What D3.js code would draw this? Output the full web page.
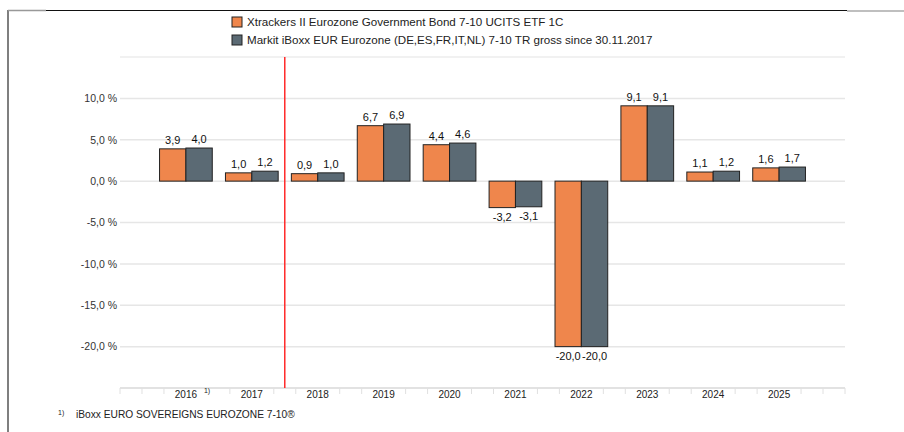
<!DOCTYPE html>
<html>
<head>
<meta charset="utf-8">
<script src="https://cdn.jsdelivr.net/npm/d3@7"></script>
<style>
  body { margin: 0; background: #fff; }
  svg { display: block; font-family: "Liberation Sans", Arial, sans-serif; }
</style>
</head>
<body>
<div id="chart"></div>
<script>
const years = [2016, 2017, 2018, 2019, 2020, 2021, 2022, 2023, 2024, 2025]
const fundValues = [3.9, 1.0, 0.9, 6.7, 4.4, -3.2, -20.0, 9.1, 1.1, 1.6]
const indexValues = [4.0, 1.2, 1.0, 6.9, 4.6, -3.1, -20.0, 9.1, 1.2, 1.7]
const seriesNames = [
    'Xtrackers II Eurozone Government Bond 7-10 UCITS ETF 1C',
    'Markit iBoxx EUR Eurozone (DE,ES,FR,IT,NL) 7-10 TR gross since 30.11.2017'
]
const yTickValues = [10, 5, 0, -5, -10, -15, -20]
const changeYear = 2017.5
const footnote = 'iBoxx EURO SOVEREIGNS EUROZONE 7-10®'

const width = 904
const height = 432
const colors = ['#ef864c', '#5b6a74']
const fmt = v => d3.format('.1f')(v).replace('.', ',').replace('\u2212', '-')

const svg = d3.select('#chart').append('svg')
    .attr('width', width)
    .attr('height', height)

// frame
svg.append('line')
    .attr('x1', 8).attr('x2', 8).attr('y1', 10).attr('y2', height)
    .attr('stroke', '#555').attr('stroke-width', 1.5)
svg.append('line')
    .attr('x1', 8).attr('x2', 46).attr('y1', 10.5).attr('y2', 10.5)
    .attr('stroke', '#999').attr('stroke-width', 1.5)
svg.append('line')
    .attr('x1', 46).attr('x2', 847).attr('y1', 10.5).attr('y2', 10.5)
    .attr('stroke', '#111').attr('stroke-width', 1.2)
svg.append('line')
    .attr('x1', 847).attr('x2', width).attr('y1', 11).attr('y2', 11)
    .attr('stroke', '#aaa').attr('stroke-width', 1.5)

const x = d3.scaleLinear()
    .domain([2015, 2026])
    .range([120, 845])
const y = d3.scaleLinear()
    .domain([-25, 15])
    .range([388, 57])
const barW = x(2015.4) - x(2015)

// grid
const gridG = svg.append('g')
gridG.selectAll('line.grid')
    .data(yTickValues)
    .join('line')
    .attr('class', 'grid')
    .attr('x1', x.range()[0]).attr('x2', x.range()[1])
    .attr('y1', d => y(d)).attr('y2', d => y(d))
    .attr('stroke', '#e6e6e6').attr('stroke-width', 1.5)
gridG.append('line')
    .attr('x1', x.range()[0]).attr('x2', x.range()[1])
    .attr('y1', y(15)).attr('y2', y(15))
    .attr('stroke', '#ececec').attr('stroke-width', 1.5)

// y labels
svg.append('g').selectAll('text')
    .data(yTickValues)
    .join('text')
    .attr('x', 117)
    .attr('y', d => y(d) + 3.8)
    .attr('text-anchor', 'end')
    .attr('font-size', 10.5)
    .attr('fill', '#333')
    .text(d => fmt(d) + ' %')

// x axis
const axisG = svg.append('g')
axisG.append('line')
    .attr('x1', x.range()[0]).attr('x2', x.range()[1])
    .attr('y1', y(-25)).attr('y2', y(-25))
    .attr('stroke', '#e2e2e2').attr('stroke-width', 2)
const minorTicks = d3.range(0, 34)
    .map(k => 2015 + k / 3)
    .filter(v => !years.some(yr => Math.abs(yr - v) < 0.01) && Math.abs(v - 2016.333) > 0.01)
axisG.selectAll('line.tick')
    .data(minorTicks)
    .join('line')
    .attr('class', 'tick')
    .attr('x1', d => x(d)).attr('x2', d => x(d))
    .attr('y1', y(-25)).attr('y2', y(-25) + 6)
    .attr('stroke', '#e0e0e0').attr('stroke-width', 1)
axisG.selectAll('text.year')
    .data(years)
    .join('text')
    .attr('class', 'year')
    .attr('x', d => x(d))
    .attr('y', 398)
    .attr('text-anchor', 'middle')
    .attr('font-size', 10)
    .attr('fill', '#222')
    .text(d => d)
axisG.append('text')
    .attr('x', x(2016) + 18)
    .attr('y', 393)
    .attr('font-size', 7)
    .attr('fill', '#222')
    .text('1)')

// bars
const barsG = svg.append('g')
const seriesData = [fundValues, indexValues]
seriesData.forEach((vals, s) => {
    const rows = years.map((yr, i) => ({ year: yr, value: vals[i] }))
    barsG.selectAll('rect.s' + s)
        .data(rows)
        .join('rect')
        .attr('class', 's' + s)
        .attr('x', d => x(d.year) - barW + s * barW)
        .attr('y', d => y(Math.max(0, d.value)))
        .attr('width', barW)
        .attr('height', d => Math.abs(y(d.value) - y(0)))
        .attr('fill', colors[s])
        .attr('stroke', '#222')
        .attr('stroke-width', 1)
    barsG.selectAll('text.l' + s)
        .data(rows)
        .join('text')
        .attr('class', 'l' + s)
        .attr('x', d => x(d.year) - barW / 2 + s * barW)
        .attr('y', d => d.value >= 0 ? y(d.value) - 5 : y(d.value) + 13)
        .attr('text-anchor', 'middle')
        .attr('font-size', 11)
        .attr('fill', '#111')
        .text(d => fmt(d.value))
})

// start of index marker
svg.append('line')
    .attr('x1', x(changeYear)).attr('x2', x(changeYear))
    .attr('y1', y(15)).attr('y2', y(-25))
    .attr('stroke', '#ff2a2a').attr('stroke-width', 1.5)

// legend
const legG = svg.append('g')
seriesNames.forEach((name, i) => {
    legG.append('rect')
        .attr('x', 232).attr('y', 17 + i * 18)
        .attr('width', 10).attr('height', 10)
        .attr('fill', colors[i])
        .attr('stroke', '#222').attr('stroke-width', 1)
    legG.append('text')
        .attr('x', 247).attr('y', 26 + i * 18)
        .attr('font-size', 11.6)
        .attr('fill', '#222')
        .text(name)
})

// footnote
svg.append('text')
    .attr('x', 58).attr('y', 415)
    .attr('font-size', 7)
    .attr('fill', '#222')
    .text('1)')
svg.append('text')
    .attr('x', 76).attr('y', 418)
    .attr('font-size', 10.2)
    .attr('fill', '#222')
    .text(footnote)
</script>
</body>
</html>
